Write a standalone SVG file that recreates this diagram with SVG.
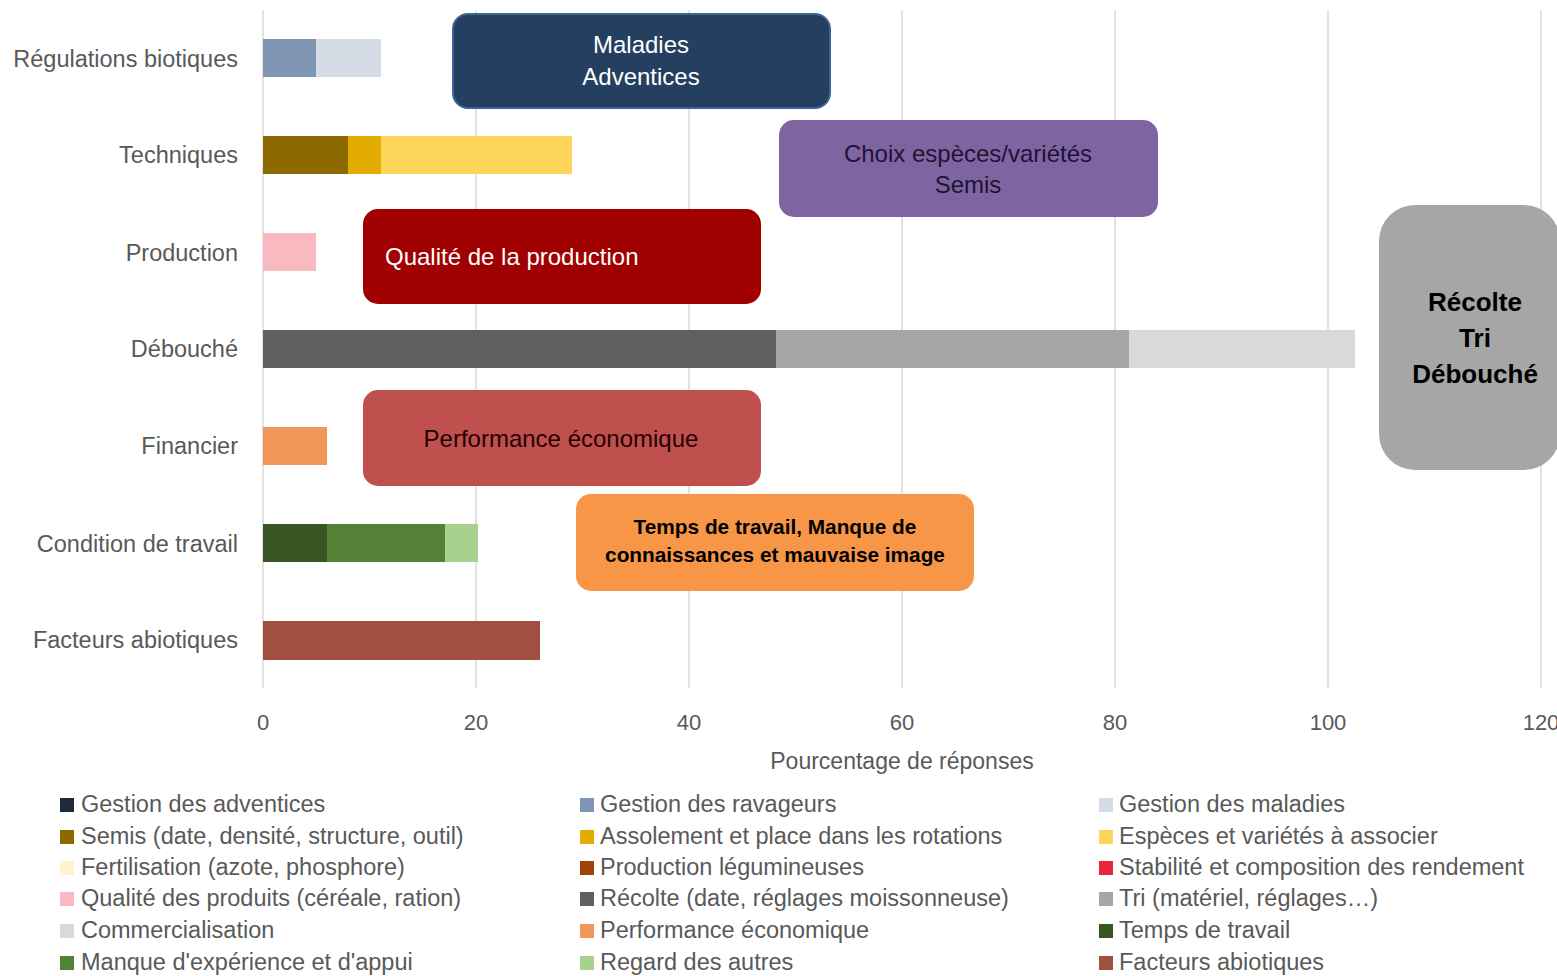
<svg xmlns="http://www.w3.org/2000/svg" width="1557" height="976" viewBox="0 0 1557 976">
<style>
text{font-family:"Liberation Sans",Arial,sans-serif}
.cat{font-size:23.5px;fill:#595959;text-anchor:end}
.tick{font-size:22px;fill:#595959;text-anchor:middle}
.leg{font-size:23.5px;fill:#595959}
.grid{stroke:#d9d9d9;stroke-width:1.5}
.bt{font-size:24px;text-anchor:middle}
.bb{font-weight:bold;text-anchor:middle}
</style>
<rect width="1557" height="976" fill="#ffffff"/>
<g id="grid">
<line class="grid" x1="263" y1="10" x2="263" y2="688"/>
<line class="grid" x1="476" y1="10" x2="476" y2="688"/>
<line class="grid" x1="689" y1="10" x2="689" y2="688"/>
<line class="grid" x1="902" y1="10" x2="902" y2="688"/>
<line class="grid" x1="1115" y1="10" x2="1115" y2="688"/>
<line class="grid" x1="1328" y1="10" x2="1328" y2="688"/>
<line class="grid" x1="1541" y1="10" x2="1541" y2="688"/>
</g>
<g id="categories">
<text class="cat" x="238" y="67">Régulations biotiques</text>
<text class="cat" x="238" y="163">Techniques</text>
<text class="cat" x="238" y="261">Production</text>
<text class="cat" x="238" y="357">Débouché</text>
<text class="cat" x="238" y="454">Financier</text>
<text class="cat" x="238" y="552">Condition de travail</text>
<text class="cat" x="238" y="648">Facteurs abiotiques</text>
</g>
<g id="bars">
<rect x="263" y="39" width="53" height="38" fill="#7f96b3"/>
<rect x="316" y="39" width="65" height="38" fill="#d5dce6"/>
<rect x="263" y="136" width="85" height="38" fill="#8c6a00"/>
<rect x="348" y="136" width="33" height="38" fill="#e2ac00"/>
<rect x="381" y="136" width="191" height="38" fill="#fdd55b"/>
<rect x="263" y="233" width="53" height="38" fill="#f9b9c1"/>
<rect x="263" y="330" width="513" height="38" fill="#5f5f5f"/>
<rect x="776" y="330" width="353" height="38" fill="#a6a6a6"/>
<rect x="1129" y="330" width="226" height="38" fill="#d9d9d9"/>
<rect x="263" y="427" width="64" height="38" fill="#f2975a"/>
<rect x="263" y="524" width="64" height="38" fill="#375623"/>
<rect x="327" y="524" width="118" height="38" fill="#538135"/>
<rect x="445" y="524" width="33" height="38" fill="#a9d18e"/>
<rect x="263" y="621" width="277" height="39" fill="#a0503e"/>
</g>
<g id="axis">
<text class="tick" x="263" y="730">0</text>
<text class="tick" x="476" y="730">20</text>
<text class="tick" x="689" y="730">40</text>
<text class="tick" x="902" y="730">60</text>
<text class="tick" x="1115" y="730">80</text>
<text class="tick" x="1328" y="730">100</text>
<text class="tick" x="1541" y="730">120</text>
<text class="tick" x="902" y="769" style="font-size:23px">Pourcentage de réponses</text>
</g>
<g id="box-maladies">
<rect x="453" y="14" width="377" height="94" rx="15" fill="#243f60" stroke="#3d6496" stroke-width="2"/>
<text class="bt" x="641" y="53" fill="#ffffff">Maladies</text>
<text class="bt" x="641" y="85" fill="#ffffff">Adventices</text>
</g>
<g id="box-choix">
<rect x="779" y="120" width="379" height="97" rx="15" fill="#8064a2"/>
<text class="bt" x="968" y="162" fill="#1c1433">Choix espèces/variétés</text>
<text class="bt" x="968" y="193" fill="#1c1433">Semis</text>
</g>
<g id="box-qualite">
<rect x="363" y="209" width="398" height="95" rx="15" fill="#a10000"/>
<text x="385" y="265" fill="#ffffff" style="font-size:24px">Qualité de la production</text>
</g>
<g id="box-recolte">
<rect x="1379" y="205" width="181" height="265" rx="36" fill="#a6a6a6"/>
<text class="bb" x="1475" y="311" fill="#000000" style="font-size:26px">Récolte</text>
<text class="bb" x="1475" y="347" fill="#000000" style="font-size:26px">Tri</text>
<text class="bb" x="1475" y="383" fill="#000000" style="font-size:26px">Débouché</text>
</g>
<g id="box-performance">
<rect x="363" y="390" width="398" height="96" rx="15" fill="#c0504d"/>
<text class="bt" x="561" y="447" fill="#260000">Performance économique</text>
</g>
<g id="box-temps">
<rect x="576" y="494" width="398" height="97" rx="15" fill="#f79646"/>
<text class="bb" x="775" y="534" fill="#000000" style="font-size:20.8px">Temps de travail, Manque de</text>
<text class="bb" x="775" y="562" fill="#000000" style="font-size:20.8px">connaissances et mauvaise image</text>
</g>
<g id="connectors"/>
<g id="legend">
<rect x="60" y="798" width="14" height="14" fill="#1f2a3c"/><text class="leg" x="81" y="812">Gestion des adventices</text>
<rect x="580" y="798" width="14" height="14" fill="#7f96b3"/><text class="leg" x="600" y="812">Gestion des ravageurs</text>
<rect x="1099" y="798" width="14" height="14" fill="#d5dce6"/><text class="leg" x="1119" y="812">Gestion des maladies</text>
<rect x="60" y="830" width="14" height="14" fill="#8c6a00"/><text class="leg" x="81" y="844">Semis (date, densité, structure, outil)</text>
<rect x="580" y="830" width="14" height="14" fill="#e2ac00"/><text class="leg" x="600" y="844">Assolement et place dans les rotations</text>
<rect x="1099" y="830" width="14" height="14" fill="#fdd55b"/><text class="leg" x="1119" y="844">Espèces et variétés à associer</text>
<rect x="60" y="861" width="14" height="14" fill="#fff2cc"/><text class="leg" x="81" y="875">Fertilisation (azote, phosphore)</text>
<rect x="580" y="861" width="14" height="14" fill="#a0430a"/><text class="leg" x="600" y="875">Production légumineuses</text>
<rect x="1099" y="861" width="14" height="14" fill="#e8253c"/><text class="leg" x="1119" y="875">Stabilité et composition des rendement</text>
<rect x="60" y="892" width="14" height="14" fill="#f9b9c1"/><text class="leg" x="81" y="906">Qualité des produits (céréale, ration)</text>
<rect x="580" y="892" width="14" height="14" fill="#5f5f5f"/><text class="leg" x="600" y="906">Récolte (date, réglages moissonneuse)</text>
<rect x="1099" y="892" width="14" height="14" fill="#a6a6a6"/><text class="leg" x="1119" y="906">Tri (matériel, réglages…)</text>
<rect x="60" y="924" width="14" height="14" fill="#d9d9d9"/><text class="leg" x="81" y="938">Commercialisation</text>
<rect x="580" y="924" width="14" height="14" fill="#f2975a"/><text class="leg" x="600" y="938">Performance économique</text>
<rect x="1099" y="924" width="14" height="14" fill="#375623"/><text class="leg" x="1119" y="938">Temps de travail</text>
<rect x="60" y="956" width="14" height="14" fill="#538135"/><text class="leg" x="81" y="970">Manque d'expérience et d'appui</text>
<rect x="580" y="956" width="14" height="14" fill="#a9d18e"/><text class="leg" x="600" y="970">Regard des autres</text>
<rect x="1099" y="956" width="14" height="14" fill="#a0503e"/><text class="leg" x="1119" y="970">Facteurs abiotiques</text>
</g>
</svg>
